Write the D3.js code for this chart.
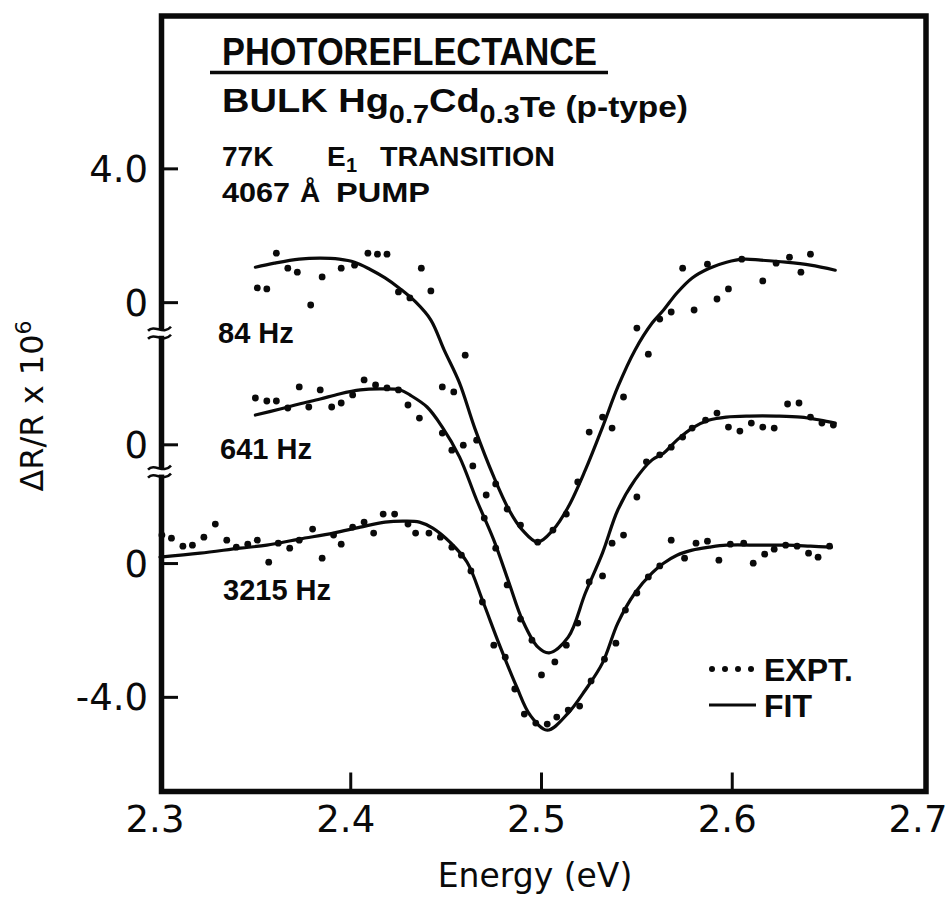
<!DOCTYPE html>
<html><head><meta charset="utf-8">
<script src="https://cdn.jsdelivr.net/npm/d3@7"></script>
<style>body{margin:0;background:#fff}</style>
</head><body><svg id="chart" width="946" height="901"></svg>
<script>
// ---------- data ----------
const seriesNames = ["84 Hz", "641 Hz", "3215 Hz"];
const offsets = [7.8, 3.55, 0];   // vertical offsets of the three traces (axis units)

// experimental points (energy eV, ΔR/R x 10^6)
const expt84E = [2.351,2.356,2.361,2.367,2.372,2.379,2.385,2.395,2.402,2.409,2.414,2.419,2.425,2.431,2.437,2.442,2.448,2.454,2.460,2.466,2.476,2.482,2.489,2.498,2.506,2.513,2.519,2.525,2.532,2.537,2.543,2.550,2.556,2.562,2.568,2.574,2.580,2.587,2.592,2.598,2.605,2.616,2.623,2.630,2.636,2.641];
const expt84V = [0.44,0.41,1.48,1.03,0.91,-0.07,0.77,1.03,1.12,1.48,1.45,1.45,0.32,0.14,1.03,0.35,-2.52,-2.67,-1.57,-4.11,-5.42,-6.17,-6.65,-7.16,-6.80,-6.32,-5.36,-3.87,-3.42,-3.75,-2.82,-0.76,-1.54,-0.49,-0.28,1.03,-0.22,1.15,0.11,0.41,1.30,0.65,1.18,1.36,0.91,1.45];

const expt641E = [2.350,2.356,2.361,2.367,2.373,2.378,2.384,2.390,2.395,2.401,2.407,2.413,2.419,2.425,2.430,2.436,2.448,2.453,2.459,2.464,2.471,2.470,2.476,2.482,2.489,2.495,2.500,2.507,2.513,2.519,2.525,2.532,2.537,2.543,2.550,2.555,2.562,2.568,2.574,2.579,2.586,2.592,2.598,2.604,2.610,2.616,2.622,2.629,2.635,2.641,2.647,2.653];
const expt641V = [1.40,1.31,1.31,1.10,1.73,1.13,1.64,1.13,1.25,1.49,1.94,1.79,1.70,1.64,1.19,0.80,0.35,-0.16,-0.01,-0.63,-1.50,-2.19,-3.09,-4.19,-5.21,-5.84,-6.88,-6.49,-5.99,-5.33,-4.10,-3.92,-2.94,-2.70,-1.56,-0.51,-0.30,-0.07,0.23,0.50,0.74,0.95,0.53,0.41,0.65,0.53,0.50,1.22,1.25,0.83,0.65,0.59];

const expt3215E = [2.301,2.306,2.312,2.317,2.323,2.329,2.335,2.340,2.346,2.351,2.357,2.362,2.368,2.373,2.380,2.385,2.391,2.395,2.401,2.407,2.412,2.417,2.423,2.430,2.434,2.441,2.447,2.453,2.458,2.463,2.469,2.475,2.481,2.486,2.491,2.497,2.503,2.508,2.514,2.520,2.526,2.533,2.539,2.544,2.550,2.556,2.562,2.568,2.575,2.581,2.587,2.593,2.599,2.606,2.611,2.617,2.622,2.628,2.634,2.640,2.645,2.651];
const expt3215V = [0.85,0.76,0.52,0.55,0.79,1.18,0.70,0.49,0.58,0.70,0.04,0.61,0.46,0.70,1.03,0.16,0.85,0.58,1.09,1.24,0.91,1.48,1.48,1.18,0.91,0.91,0.79,0.49,0.25,-0.22,-1.15,-2.44,-2.80,-3.75,-4.50,-4.77,-4.80,-4.59,-4.38,-4.26,-3.51,-2.86,-2.38,-1.39,-0.88,-0.40,-0.07,0.70,0.16,0.61,0.67,0.10,0.58,0.61,0.01,0.28,0.43,0.55,0.52,0.31,0.19,0.52];

// fitted curves
const fit84E = [2.350,2.360,2.373,2.384,2.394,2.402,2.410,2.418,2.426,2.434,2.442,2.449,2.457,2.465,2.475,2.483,2.490,2.498,2.506,2.514,2.523,2.532,2.540,2.549,2.558,2.564,2.571,2.579,2.588,2.597,2.606,2.615,2.628,2.641,2.654];
const fit84V = [1.06,1.18,1.30,1.33,1.30,1.21,1.00,0.74,0.41,0.02,-0.52,-1.42,-2.40,-3.75,-5.21,-6.20,-6.80,-7.16,-6.80,-6.11,-5.00,-3.72,-2.52,-1.42,-0.61,-0.22,0.29,0.74,1.03,1.21,1.30,1.27,1.21,1.12,0.97];

const fit641E = [2.350,2.363,2.373,2.384,2.394,2.405,2.415,2.426,2.431,2.440,2.448,2.457,2.466,2.475,2.483,2.490,2.498,2.504,2.514,2.523,2.532,2.540,2.549,2.558,2.564,2.571,2.579,2.588,2.597,2.609,2.623,2.636,2.646,2.654];
const fit641V = [0.89,1.07,1.22,1.37,1.52,1.64,1.67,1.64,1.49,1.13,0.53,-0.36,-1.65,-2.85,-4.13,-5.24,-6.04,-6.22,-5.75,-4.43,-3.23,-1.95,-1.05,-0.45,-0.25,0.14,0.50,0.74,0.83,0.86,0.86,0.83,0.74,0.65];

const fit3215E = [2.300,2.321,2.342,2.356,2.373,2.391,2.405,2.418,2.428,2.436,2.443,2.452,2.461,2.469,2.478,2.487,2.494,2.503,2.514,2.523,2.532,2.540,2.549,2.558,2.564,2.571,2.579,2.588,2.597,2.615,2.629,2.641,2.652];
const fit3215V = [0.19,0.31,0.46,0.55,0.73,0.91,1.09,1.24,1.27,1.24,1.06,0.64,0.04,-1.09,-2.44,-3.69,-4.53,-4.98,-4.47,-3.78,-2.97,-1.78,-0.88,-0.28,0.01,0.25,0.40,0.49,0.55,0.55,0.55,0.52,0.49];

// axes
const xTicks = [2.3, 2.4, 2.5, 2.6, 2.7];
const xTickLabels = ["2.3", "2.4", "2.5", "2.6", "2.7"];
const yTickValues = [4, 0, 0, 0, -4];
const yTickSeries = [0, 0, 1, 2, 2];
const yTickLabels = ["4.0", "0", "0", "0", "-4.0"];
const yBreaks = [6.9, 2.75];

// ---------- drawing ----------
const svg = d3.select("#chart");
const x = d3.scaleLinear().domain([2.3, 2.7]).range([160, 923]);
const y = d3.scaleLinear().domain([-6.8, 16.4]).range([791, 15]);

const exptE = [expt84E, expt641E, expt3215E];
const exptV = [expt84V, expt641V, expt3215V];
const fitE = [fit84E, fit641E, fit3215E];
const fitV = [fit84V, fit641V, fit3215V];

const line = d3.line()
  .x(d => x(d[0])).y(d => y(d[1]))
  .curve(d3.curveCatmullRom.alpha(0.5));

const ink = "#0a0a0a";

// fits
seriesNames.forEach((name, i) => {
  const pts = fitE[i].map((e, k) => [e, fitV[i][k] + offsets[i]]);
  svg.append("path").attr("d", line(pts))
    .attr("fill", "none").attr("stroke", ink).attr("stroke-width", 3.2)
    .attr("stroke-linejoin", "round").attr("stroke-linecap", "round");
});
// experimental points
seriesNames.forEach((name, i) => {
  const pts = exptE[i].map((e, k) => [e, exptV[i][k] + offsets[i]]);
  svg.append("g").selectAll("circle").data(pts).join("circle")
    .attr("cx", d => x(d[0])).attr("cy", d => y(d[1])).attr("r", 3.4)
    .attr("fill", ink);
});

// frame
const x0 = x.range()[0], x1 = x.range()[1];
const fL = x0 + 1.5, fR = x1 + 3, fT = y.range()[1] + 1, fB = y.range()[0] + 0.5;
svg.append("path")
  .attr("d", `M${fL},${fT} L${fR},${fT} L${fR},${fB} L${fL},${fB} Z`)
  .attr("fill", "none").attr("stroke", ink).attr("stroke-width", 5.5)
  .attr("stroke-linejoin", "miter");

// x ticks
const xAxisG = svg.append("g");
xTicks.forEach((t, i) => {
  if (i > 0 && i < xTicks.length - 1) {
    xAxisG.append("line").attr("x1", x(t)).attr("x2", x(t))
      .attr("y1", fB - 2).attr("y2", fB - 19)
      .attr("stroke", ink).attr("stroke-width", 3);
  }
  xAxisG.append("text").attr("x", x(t) - 5).attr("y", 832)
    .attr("text-anchor", "middle")
    .attr("font-family", "DejaVu Sans").attr("font-size", 37)
    .attr("fill", ink).text(xTickLabels[i]);
});

// y ticks
const yAxisG = svg.append("g");
yTickValues.forEach((v, i) => {
  const yy = y(v + offsets[yTickSeries[i]]);
  yAxisG.append("line").attr("x1", fL).attr("x2", 178)
    .attr("y1", yy).attr("y2", yy).attr("stroke", ink).attr("stroke-width", 3);
  yAxisG.append("text").attr("x", 148).attr("y", yy + 13)
    .attr("text-anchor", "end")
    .attr("font-family", "DejaVu Sans").attr("font-size", 37)
    .attr("fill", ink).text(yTickLabels[i]);
});

// axis breaks
yBreaks.forEach(b => {
  const yb = y(b);
  svg.append("rect").attr("x", fL - 5).attr("y", yb - 3).attr("width", 10).attr("height", 6).attr("fill", "#fff");
  [-4, 4].forEach(dy => {
    const yy = yb + dy;
    svg.append("path")
      .attr("d", `M148,${yy + 2} C155,${yy - 5} 163,${yy + 7} 171,${yy - 2}`)
      .attr("fill", "none").attr("stroke", ink).attr("stroke-width", 2.6);
  });
});

// axis titles
svg.append("text").attr("x", 535).attr("y", 887).attr("text-anchor", "middle")
  .attr("font-family", "DejaVu Sans").attr("font-size", 33).attr("fill", ink)
  .text("Energy (eV)");
const yt = svg.append("text").attr("transform", "translate(43,406) rotate(-90)")
  .attr("text-anchor", "middle").attr("font-family", "DejaVu Sans")
  .attr("font-size", 32).attr("fill", ink);
yt.append("tspan").text("ΔR/R x 10");
yt.append("tspan").attr("dy", -12).attr("font-size", 22).text("6");

// series labels
const labelPos = [[218, 343], [220, 459], [223, 600]];
seriesNames.forEach((name, i) => {
  svg.append("text").attr("x", labelPos[i][0]).attr("y", labelPos[i][1])
    .attr("font-family", "Liberation Sans").attr("font-weight", "bold")
    .attr("font-size", 29).attr("fill", ink).text(name);
});

// header
const hf = "Liberation Sans";
svg.append("text").attr("x", 222).attr("y", 65)
  .attr("font-family", hf).attr("font-weight", "bold").attr("font-size", 38)
  .attr("textLength", 375).attr("lengthAdjust", "spacingAndGlyphs")
  .attr("fill", ink).text("PHOTOREFLECTANCE");
svg.append("line").attr("x1", 210).attr("x2", 608).attr("y1", 72.5).attr("y2", 72.5)
  .attr("stroke", ink).attr("stroke-width", 3.5);

const l2 = svg.append("text").attr("x", 222).attr("y", 112)
  .attr("font-family", hf).attr("font-weight", "bold").attr("font-size", 33)
  .attr("textLength", 466).attr("lengthAdjust", "spacingAndGlyphs").attr("fill", ink);
l2.append("tspan").text("BULK Hg");
l2.append("tspan").attr("dy", 11).attr("font-size", 25).text("0.7");
l2.append("tspan").attr("dy", -11).text("Cd");
l2.append("tspan").attr("dy", 11).attr("font-size", 25).text("0.3");
l2.append("tspan").attr("dy", -6).attr("font-size", 29).text("Te (p-type)");

const l3 = svg.append("g").attr("font-family", hf).attr("font-weight", "bold")
  .attr("font-size", 28).attr("fill", ink);
l3.append("text").attr("x", 222).attr("y", 166).text("77K");
l3.append("text").attr("x", 327).attr("y", 166).text("E");
l3.append("text").attr("x", 346).attr("y", 172).attr("font-size", 20).text("1");
l3.append("text").attr("x", 380).attr("y", 166).attr("textLength", 175)
  .attr("lengthAdjust", "spacingAndGlyphs").text("TRANSITION");
l3.append("text").attr("x", 222).attr("y", 202).attr("textLength", 68)
  .attr("lengthAdjust", "spacingAndGlyphs").text("4067");
l3.append("text").attr("x", 300).attr("y", 202).text("Å");
l3.append("text").attr("x", 336).attr("y", 202).attr("textLength", 94)
  .attr("lengthAdjust", "spacingAndGlyphs").text("PUMP");

// legend
const lg = svg.append("g");
[712, 725, 738, 751].forEach(cx => {
  lg.append("circle").attr("cx", cx).attr("cy", 669).attr("r", 3).attr("fill", ink);
});
lg.append("text").attr("x", 764).attr("y", 681).attr("font-family", hf)
  .attr("font-weight", "bold").attr("font-size", 32).attr("fill", ink).text("EXPT.");
lg.append("line").attr("x1", 709).attr("x2", 756).attr("y1", 705).attr("y2", 705)
  .attr("stroke", ink).attr("stroke-width", 3);
lg.append("text").attr("x", 764).attr("y", 717).attr("font-family", hf)
  .attr("font-weight", "bold").attr("font-size", 32).attr("fill", ink).text("FIT");
</script>
</body></html>
